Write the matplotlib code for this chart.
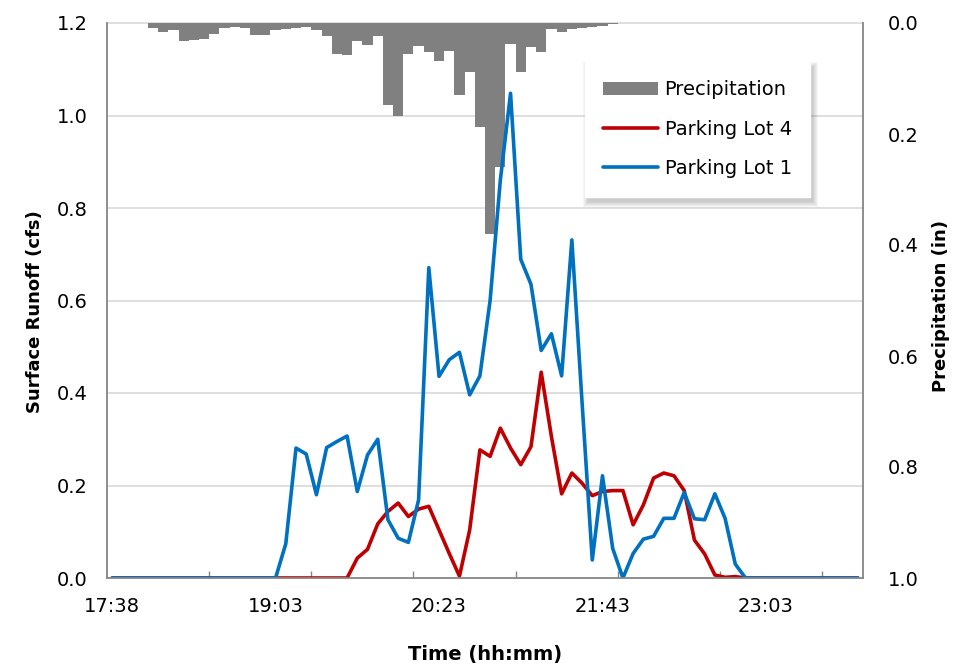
import numpy as np
import matplotlib.pyplot as plt
from matplotlib.patches import Rectangle
from matplotlib.transforms import IdentityTransform

plt.rcParams['font.family'] = ['DejaVu Sans']

# 5-minute steps, one value per step
time_labels = ["17:38", "19:03", "20:23", "21:43", "23:03"]
label_steps = [0, 16, 32, 48, 64]

# surface runoff (cfs)
lot4 = [0, 0, 0, 0, 0, 0, 0, 0, 0, 0, 0, 0, 0, 0, 0, 0,
        0, 0, 0, 0, 0, 0, 0, 0, 0.043, 0.062, 0.117, 0.144, 0.162, 0.133, 0.149, 0.155,
        0.104, 0.053, 0.004, 0.104, 0.277, 0.263, 0.324, 0.281, 0.245, 0.284, 0.445, 0.306,
        0.182, 0.227, 0.205, 0.178, 0.187, 0.189, 0.189, 0.115, 0.158, 0.216, 0.227, 0.221,
        0.189, 0.082, 0.052, 0.0065, 0.0015, 0.003, 0, 0, 0, 0, 0, 0, 0, 0, 0, 0, 0, 0]
lot1 = [0, 0, 0, 0, 0, 0, 0, 0, 0, 0, 0, 0, 0, 0, 0, 0,
        0, 0.074, 0.281, 0.268, 0.180, 0.282, 0.295, 0.307, 0.187, 0.266, 0.300, 0.126,
        0.086, 0.077, 0.169, 0.671, 0.436, 0.472, 0.488, 0.396, 0.437, 0.600, 0.860, 1.048,
        0.689, 0.635, 0.492, 0.528, 0.437, 0.731, 0.380, 0.039, 0.221, 0.064, 0.000, 0.053,
        0.084, 0.090, 0.129, 0.129, 0.185, 0.128, 0.126, 0.182, 0.129, 0.030, 0, 0,
        0, 0, 0, 0, 0, 0, 0, 0, 0, 0]
# precipitation (in)
precip = [0, 0, 0, 0, 0.009, 0.016, 0.013, 0.032, 0.030, 0.029, 0.019, 0.009, 0.007, 0.009,
          0.022, 0.022, 0.013, 0.010, 0.009, 0.007, 0.013, 0.023, 0.055, 0.058, 0.032, 0.040,
          0.023, 0.148, 0.167, 0.056, 0.041, 0.053, 0.068, 0.050, 0.130, 0.089, 0.188, 0.381,
          0.259, 0.038, 0.088, 0.044, 0.052, 0.011, 0.016, 0.011, 0.009, 0.007, 0.005, 0.002,
          0, 0, 0, 0, 0, 0, 0, 0, 0, 0, 0, 0, 0, 0, 0, 0, 0, 0, 0, 0, 0, 0, 0, 0]

x = np.arange(len(lot1))
axis_gray = '#868686'
fs = 14

fig = plt.figure(figsize=(9.62, 6.66), dpi=100)
ax = fig.add_axes([107 / 962, 1 - 578 / 666, 756 / 962, 555 / 666])
ax2 = ax.twinx()

# runoff axes on top of the precipitation bars
ax.set_zorder(ax2.get_zorder() + 1)
ax.patch.set_visible(False)

# gridlines for the runoff scale, kept under the bars
for g in np.arange(0.2, 1.21, 0.2):
    ax2.plot([0, 1], [g, g], transform=ax.get_yaxis_transform(),
             color='#d9d9d9', lw=1.2, zorder=0, clip_on=False)

bars = ax2.bar(x, precip, width=1.0, color='#808080', zorder=2, label='Precipitation')
ax2.set_ylim(1.0, 0)
ax2.set_yticks(np.arange(0, 1.01, 0.2))
ax2.set_yticklabels([f"{v:.1f}" for v in np.arange(0, 1.01, 0.2)])
ax2.tick_params(axis='y', length=0, pad=18, labelsize=fs)
ax2.set_ylabel("Precipitation (in)", fontsize=13, fontweight='bold')
ax2.yaxis.set_label_coords(1.091, 0.49)

l4, = ax.plot(x, lot4, color='#C00000', lw=2.6, solid_joinstyle='round',
              solid_capstyle='round', label='Parking Lot 4')
l1, = ax.plot(x, lot1, color='#0070C0', lw=2.6, solid_joinstyle='round',
              solid_capstyle='round', label='Parking Lot 1')

ax.set_xlim(-0.5, len(x) - 0.5)
ax.set_ylim(0, 1.2)
ax.set_yticks(np.arange(0, 1.21, 0.2))
ax.set_yticklabels([f"{v:.1f}" for v in np.arange(0, 1.21, 0.2)])
ax.tick_params(axis='y', length=0, pad=14, labelsize=fs)

# labelled steps carry no tick mark; marks sit between steps every 10
ax.set_xticks(label_steps)
ax.set_xticklabels(time_labels)
ax.set_xticks(np.arange(9.5, len(x) - 1, 10), minor=True)
ax.tick_params(axis='x', which='minor', direction='in', length=5, width=1, color=axis_gray)
ax.tick_params(axis='x', which='major', direction='out', length=0, pad=14, labelsize=fs)

ax.set_xlabel("Time (hh:mm)", fontsize=fs, fontweight='bold')
ax.xaxis.set_label_coords(0.5, -0.121)
ax.set_ylabel("Surface Runoff (cfs)", fontsize=13, fontweight='bold')
ax.yaxis.set_label_coords(-0.083, 0.48)

for s in ['top', 'right']:
    ax.spines[s].set_visible(False)
for s in ['top', 'left', 'bottom']:
    ax2.spines[s].set_visible(False)
for sp in [ax.spines['left'], ax.spines['bottom'], ax2.spines['right']]:
    sp.set_color(axis_gray)
    sp.set_linewidth(1.3)

leg = ax.legend([bars, l4, l1], ['Precipitation', 'Parking Lot 4', 'Parking Lot 1'],
                loc='upper left', bbox_to_anchor=(0.632, 0.93), borderaxespad=0,
                fontsize=fs, frameon=True, fancybox=False, edgecolor='white', framealpha=1,
                handlelength=2.8, handletextpad=0.35, labelspacing=1.05, borderpad=0.95)
leg.set_zorder(6)

# soft drop shadow behind the legend box
fig.canvas.draw()
bb = leg.get_window_extent()
for k in range(1, 7):
    ax.add_patch(Rectangle((bb.x0 + 4 - k, bb.y0 - 4 - k), bb.width + 2 * k - 2,
                           bb.height + 2 * k - 2, transform=IdentityTransform(),
                           facecolor='black', edgecolor='none', alpha=0.035,
                           zorder=5, clip_on=False))

plt.savefig('out.png', dpi=100)
